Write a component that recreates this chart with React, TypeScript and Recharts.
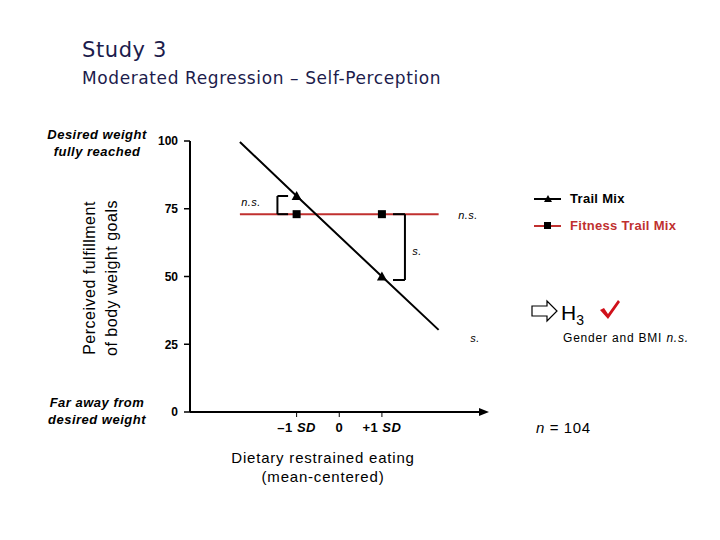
import React from "react";
import { ComposedChart, Line, XAxis, YAxis, ReferenceLine } from "recharts";

// x in SD units (mean-centered restrained eating), y = perceived fulfillment
const xValues = [-2.33, -1, 1, 2.33];
const trailMix = [99.6, 79.7, 50, 30.3];
const fitnessTrailMix = [73, 73, 73, 73];
const markerXs = [-1, 1];
const xTicks = [-1, 0, 1];
const xTickLabels = ["–1", "0", "+1"];
const yTicks = [0, 25, 50, 75, 100];
const seriesNames = ["Trail Mix", "Fitness Trail Mix"];

const data = xValues.map((x, i) => ({
  x: x,
  trail: trailMix[i],
  fitness: fitnessTrailMix[i],
}));

const RED = "#c0302f";
const ARIAL = "'Liberation Sans', Arial, sans-serif";
const VERDANA = "'DejaVu Sans', Verdana, sans-serif";

const TriangleDot = (props: any) => {
  const { cx, cy, payload } = props;
  if (!markerXs.includes(payload.x)) return <g key={props.index} />;
  return (
    <path
      key={props.index}
      d={`M${cx},${cy - 5} L${cx + 5},${cy + 4} L${cx - 5},${cy + 4} Z`}
      fill="#000"
    />
  );
};

const SquareDot = (props: any) => {
  const { cx, cy, payload } = props;
  if (!markerXs.includes(payload.x)) return <g key={props.index} />;
  return <rect key={props.index} x={cx - 4} y={cy - 4} width={8} height={8} fill="#000" />;
};

const XTick = (props: any) => {
  const { x, y, payload } = props;
  const i = xTicks.indexOf(payload.value);
  const label = xTickLabels[i];
  return (
    <text x={x} y={y} dy="0.71em" textAnchor="middle" fontFamily={ARIAL} fontSize={13} fontWeight="bold" fill="#000" letterSpacing={0.5}>
      {label}
      {payload.value !== 0 && <tspan fontStyle="italic"> SD</tspan>}
    </text>
  );
};

export default function App() {
  return (
    <div style={{ position: "absolute", left: 0, top: 0, width: 720, height: 540, background: "#fff" }}>
      <svg width={720} height={540} style={{ position: "absolute", left: 0, top: 0 }}>
        <defs>
          <marker id="axisArrow" markerWidth="10" markerHeight="10" refX="1" refY="5" orient="auto" markerUnits="userSpaceOnUse">
            <path d="M0,1 L10,5 L0,9 Z" fill="#000" />
          </marker>
        </defs>
        <text x={82} y={57} fontFamily={VERDANA} fontSize={21} letterSpacing={0.6} fill="#1c1c4c">
          Study 3
        </text>
        <text x={82} y={84} fontFamily={VERDANA} fontSize={17} letterSpacing={0.6} fill="#1c1c4c">
          Moderated Regression – Self-Perception
        </text>

        <g fontFamily={ARIAL} fontSize={13} fontWeight="bold" fontStyle="italic" textAnchor="middle" fill="#000" letterSpacing={0.5}>
          <text x={97} y={139}>Desired weight</text>
          <text x={97} y={156}>fully reached</text>
          <text x={97} y={407}>Far away from</text>
          <text x={97} y={424}>desired weight</text>
        </g>
        <g fontFamily={ARIAL} fontSize={16} textAnchor="middle" fill="#000" letterSpacing={0.5}>
          <text transform="translate(95,278) rotate(-90)">Perceived fulfillment</text>
          <text transform="translate(117,278) rotate(-90)">of body weight goals</text>
        </g>
        <g fontFamily={ARIAL} fontSize={15} textAnchor="middle" fill="#000" letterSpacing={0.8}>
          <text x={323} y={463}>Dietary restrained eating</text>
          <text x={323} y={482}>(mean-centered)</text>
        </g>

        {/* annotations */}
        <g fontFamily={ARIAL} fontSize={11} fontStyle="italic" fill="#000" letterSpacing={0.5}>
          <text x={251} y={206} textAnchor="middle">n.s.</text>
          <text x={468} y={219} textAnchor="middle">n.s.</text>
          <text x={417} y={255} textAnchor="middle">s.</text>
          <text x={475} y={342} textAnchor="middle">s.</text>
        </g>

        {/* legend */}
        <line x1={534} y1={199} x2={561} y2={199} stroke="#000" strokeWidth={2} />
        <path d="M548,195 L552,202 L544,202 Z" fill="#000" />
        <text x={570} y={203} fontFamily={ARIAL} fontSize={13} fontWeight="bold" fill="#000" letterSpacing={0.3}>
          {seriesNames[0]}
        </text>
        <line x1={534} y1={226} x2={561} y2={226} stroke={RED} strokeWidth={2} />
        <rect x={544} y={222} width={7} height={7} fill="#000" />
        <text x={570} y={230} fontFamily={ARIAL} fontSize={13} fontWeight="bold" fill={RED} letterSpacing={0.3}>
          {seriesNames[1]}
        </text>

        {/* H3 */}
        <path d="M532,306 L547,306 L547,301 L557,311 L547,321 L547,316 L532,316 Z" fill="#fff" stroke="#000" strokeWidth={1.2} />
        <text x={561} y={320} fontFamily={ARIAL} fontSize={21} fill="#000">
          H<tspan fontSize={14} dy={5}>3</tspan>
        </text>
        <path d="M600,310 L604,308 L608,314 L618,300 L620,302 L608,319 Z" fill="#d0101a" />
        <text x={563} y={342} fontFamily={ARIAL} fontSize={12} fill="#000" letterSpacing={0.8}>
          Gender and BMI <tspan fontStyle="italic">n.s.</tspan>
        </text>
        <text x={536} y={433} fontFamily={ARIAL} fontSize={15} fill="#000" letterSpacing={0.6}>
          <tspan fontStyle="italic">n</tspan> = 104
        </text>
      </svg>

      <div style={{ position: "absolute", left: 0, top: 0 }}>
        <ComposedChart width={720} height={540} data={data} margin={{ top: 141, right: 240, bottom: 98, left: 150 }}>
          <XAxis
            dataKey="x"
            type="number"
            domain={[-3.5, 3.3]}
            ticks={xTicks}
            tick={<XTick />}
            tickSize={5}
            tickMargin={6}
            height={30}
            axisLine={{ stroke: "#000", strokeWidth: 2, markerEnd: "url(#axisArrow)" }}
            tickLine={{ stroke: "#000", strokeWidth: 1 }}
            allowDataOverflow
          />
          <YAxis
            type="number"
            domain={[0, 100]}
            ticks={yTicks}
            width={40}
            tickSize={6}
            tickMargin={6}
            axisLine={{ stroke: "#000", strokeWidth: 2 }}
            tickLine={{ stroke: "#000", strokeWidth: 1.5 }}
            tick={{ fill: "#000", fontSize: 12, fontWeight: "bold", fontFamily: ARIAL }}
          />
          <Line
            dataKey="fitness"
            stroke={RED}
            strokeWidth={2}
            dot={<SquareDot />}
            isAnimationActive={false}
          />
          <Line
            dataKey="trail"
            stroke="#000"
            strokeWidth={2}
            dot={<TriangleDot />}
            isAnimationActive={false}
          />
          {/* left bracket: n.s. at -1 SD */}
          <ReferenceLine segment={[{ x: -1.45, y: 79.7 }, { x: -1.45, y: 73 }]} stroke="#000" strokeWidth={2} />
          <ReferenceLine segment={[{ x: -1.45, y: 79.7 }, { x: -1.2, y: 79.7 }]} stroke="#000" strokeWidth={2} />
          <ReferenceLine segment={[{ x: -1.45, y: 73 }, { x: -1.2, y: 73 }]} stroke="#000" strokeWidth={2} />
          {/* right bracket: s. at +1 SD */}
          <ReferenceLine segment={[{ x: 1.54, y: 73 }, { x: 1.54, y: 48.7 }]} stroke="#000" strokeWidth={2} />
          <ReferenceLine segment={[{ x: 1.26, y: 73 }, { x: 1.54, y: 73 }]} stroke="#000" strokeWidth={2} />
          <ReferenceLine segment={[{ x: 1.26, y: 48.7 }, { x: 1.54, y: 48.7 }]} stroke="#000" strokeWidth={2} />
        </ComposedChart>
      </div>
    </div>
  );
}
